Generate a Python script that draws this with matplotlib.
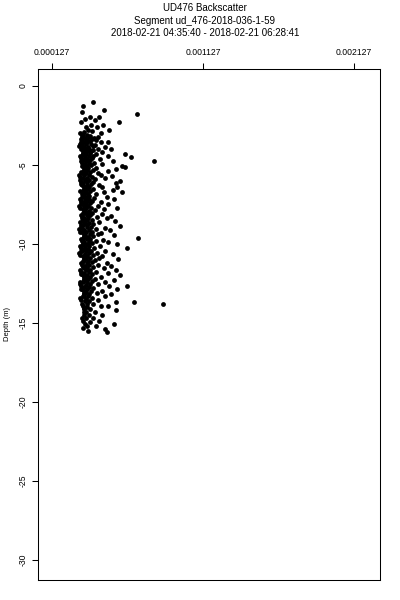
#!/usr/bin/env python3
import numpy as np
import matplotlib
matplotlib.use("Agg")
import matplotlib.pyplot as plt

# ---- DATA (backscatter in units of 1e-4, depth in m) ----
depth = [
    -1.01, -1.30, -1.52, -1.65, -1.77, -1.96, -1.99, -2.08, -2.13, -2.28, -2.26,
    -2.45, -2.49, -2.58, -2.62, -2.78, -2.83, -2.80, -2.97, -2.93, -3.00,
    -3.08, -3.13, -3.10, -3.15, -3.22, -3.27, -3.24, -3.29, -3.21,
    -3.38, -3.43, -3.40, -3.36, -3.42, -3.53, -3.57, -3.55, -3.51, -3.58, -3.54,
    -3.68, -3.72, -3.70, -3.66, -3.73, -3.83, -3.87, -3.85, -3.82, -3.88,
    -3.98, -4.02, -4.00, -3.97, -4.03, -4.01, -3.99, -4.13, -4.17, -4.15, -4.12, -4.16,
    -4.28, -4.32, -4.30, -4.27, -4.33, -4.31, -4.43, -4.47, -4.45, -4.42, -4.46, -4.49,
    -4.58, -4.62, -4.60, -4.57, -4.63, -4.73, -4.77, -4.75, -4.72, -4.78, -4.75,
    -4.88, -4.92, -4.90, -4.87, -4.93, -5.03, -5.07, -5.05, -5.02, -5.13, -5.08,
    -5.18, -5.22, -5.20, -5.17, -5.23, -5.33, -5.37, -5.35, -5.32, -5.38,
    -5.48, -5.52, -5.50, -5.47, -5.53, -5.63, -5.67, -5.65, -5.62, -5.68,
    -5.78, -5.82, -5.80, -5.77, -5.83, -5.93, -5.97, -5.95, -5.92, -6.00,
    -6.08, -6.12, -6.10, -6.07, -6.13, -6.23, -6.27, -6.25, -6.22, -6.28,
    -6.38, -6.42, -6.40, -6.37, -6.43, -6.53, -6.57, -6.55, -6.52, -6.58,
    -6.68, -6.72, -6.70, -6.67, -6.73, -6.71, -6.83, -6.87, -6.85, -6.82,
    -6.98, -7.02, -7.00, -6.97, -7.03, -7.13, -7.17, -7.15, -7.12, -7.18,
    -7.28, -7.32, -7.30, -7.27, -7.33, -7.43, -7.47, -7.45, -7.42, -7.48,
    -7.58, -7.62, -7.60, -7.57, -7.73, -7.77, -7.75, -7.72, -7.78, -7.74,
    -7.88, -7.92, -7.90, -7.87, -8.03, -8.07, -8.05, -8.02, -8.08,
    -8.18, -8.22, -8.20, -8.17, -8.23, -8.33, -8.37, -8.35, -8.32, -8.38,
    -8.48, -8.52, -8.50, -8.47, -8.53, -8.63, -8.67, -8.65, -8.62,
    -8.78, -8.82, -8.80, -8.77, -8.86, -8.93, -8.97, -8.95, -8.92, -8.98,
    -9.08, -9.12, -9.10, -9.07, -9.13, -9.23, -9.27, -9.25, -9.22, -9.28,
    -9.38, -9.42, -9.40, -9.37, -9.43, -9.53, -9.57, -9.55, -9.52, -9.62,
    -9.68, -9.72, -9.70, -9.67, -9.73, -9.83, -9.87, -9.85, -9.82, -9.88,
    -9.98, -10.02, -10.00, -9.97, -10.03, -10.13, -10.17, -10.15, -10.12,
    -10.28, -10.32, -10.30, -10.27, -10.25, -10.43, -10.47, -10.45, -10.42, -10.48,
    -10.58, -10.62, -10.60, -10.57, -10.63, -10.73, -10.77, -10.75, -10.72, -10.78,
    -10.88, -10.92, -10.90, -10.87, -10.93, -11.03, -11.07, -11.05, -11.02,
    -11.18, -11.22, -11.20, -11.17, -11.23, -11.33, -11.37, -11.35, -11.32, -11.38,
    -11.48, -11.52, -11.50, -11.47, -11.53, -11.63, -11.67, -11.65, -11.62,
    -11.78, -11.82, -11.80, -11.77, -11.83, -11.93, -11.97, -11.95, -11.92, -11.98,
    -12.08, -12.12, -12.10, -12.07, -12.23, -12.27, -12.25, -12.22, -12.28,
    -12.38, -12.42, -12.40, -12.37, -12.43, -12.53, -12.57, -12.55, -12.52, -12.66,
    -12.68, -12.72, -12.70, -12.67, -12.83, -12.87, -12.85, -12.82, -12.88,
    -12.98, -13.02, -13.00, -12.97, -13.13, -13.17, -13.15, -13.12, -13.18,
    -13.28, -13.32, -13.30, -13.27, -13.43, -13.47, -13.45, -13.67,
    -13.58, -13.62, -13.60, -13.57, -13.67, -13.78, -13.82, -13.80, -13.80,
    -13.93, -13.97, -13.95, -13.92, -14.08, -14.12, -14.10, -14.18,
    -14.28, -14.32, -14.30, -14.48, -14.52, -14.50, -14.68, -14.72, -14.70,
    -14.88, -14.92, -14.90, -15.06, -15.06, -15.18, -15.22, -15.33, -15.37,
    -15.48, -15.55,
]
backscatter = [
    3.99, 3.32, 4.71, 3.26, 6.90, 3.79, 4.38, 3.45, 4.12, 3.19, 5.71,
    3.85, 4.65, 4.25, 3.55, 3.65, 3.92, 5.05, 3.12, 3.39, 4.50,
    3.28, 3.31, 3.62, 3.80, 3.27, 3.47, 3.70, 4.02, 4.35,
    3.22, 3.24, 3.57, 3.90, 4.21, 3.18, 3.36, 3.61, 3.77, 4.52, 4.95,
    3.12, 3.29, 3.52, 3.86, 4.12, 3.08, 3.41, 3.66, 4.01, 4.81,
    3.17, 3.26, 3.49, 3.71, 3.96, 4.30, 5.20, 3.38, 3.34, 3.59, 3.86, 4.61,
    3.30, 3.31, 3.54, 3.81, 4.16, 6.10, 3.15, 3.44, 3.71, 4.01, 5.00, 6.50,
    3.18, 3.36, 3.61, 3.91, 4.42, 3.22, 3.26, 3.49, 3.76, 5.30, 8.02,
    3.27, 3.44, 3.69, 4.06, 4.61, 3.30, 3.29, 3.56, 3.86, 6.10, 5.90,
    3.42, 3.46, 3.64, 4.21, 5.52, 3.38, 3.36, 3.59, 3.96, 5.01,
    3.22, 3.24, 3.51, 3.79, 4.31, 3.08, 3.41, 3.69, 4.49, 5.25,
    3.12, 3.31, 3.56, 3.91, 4.80, 3.15, 3.46, 3.74, 4.11, 5.77,
    3.18, 3.34, 3.61, 3.96, 5.50, 3.22, 3.29, 3.56, 3.84, 4.41,
    3.42, 3.49, 3.71, 4.61, 5.60, 3.38, 3.36, 3.59, 4.01, 5.30,
    3.12, 3.31, 3.54, 3.81, 4.70, 5.90, 3.27, 3.39, 3.66, 4.21,
    3.30, 3.29, 3.51, 3.74, 4.90, 3.15, 3.44, 3.71, 4.06, 5.40,
    3.18, 3.36, 3.59, 3.91, 4.50, 3.22, 3.26, 3.49, 3.79, 5.00,
    3.08, 3.41, 3.64, 4.31, 3.12, 3.31, 3.54, 3.86, 4.70, 5.60,
    3.42, 3.44, 3.69, 4.11, 3.38, 3.34, 3.61, 3.94, 4.55,
    3.22, 3.29, 3.56, 3.81, 5.20, 3.27, 3.39, 3.66, 4.25, 4.90,
    3.30, 3.31, 3.59, 3.89, 5.45, 3.15, 3.46, 3.74, 4.40,
    3.18, 3.34, 3.61, 4.01, 5.77, 3.22, 3.24, 3.56, 3.84, 4.75,
    3.08, 3.41, 3.69, 4.16, 5.10, 3.12, 3.29, 3.54, 3.91, 4.50,
    3.42, 3.44, 3.76, 4.30, 5.40, 3.38, 3.36, 3.64, 4.01, 6.97,
    3.22, 3.31, 3.56, 3.79, 4.65, 3.27, 3.39, 3.71, 4.19, 5.00,
    3.30, 3.34, 3.61, 3.94, 5.60, 3.15, 3.46, 3.74, 4.45,
    3.18, 3.36, 3.66, 4.04, 6.24, 3.22, 3.29, 3.54, 3.86, 4.80,
    3.08, 3.44, 3.69, 4.26, 5.30, 3.12, 3.31, 3.59, 3.96, 4.60,
    3.42, 3.49, 3.79, 4.40, 5.65, 3.38, 3.34, 3.64, 4.10,
    3.22, 3.29, 3.56, 3.89, 4.90, 3.27, 3.46, 3.74, 4.30, 5.20,
    3.30, 3.36, 3.61, 4.01, 4.70, 3.15, 3.51, 3.81, 5.50,
    3.18, 3.41, 3.69, 4.21, 4.95, 3.22, 3.31, 3.59, 3.94, 5.80,
    3.42, 3.44, 3.76, 4.50, 3.38, 3.39, 3.66, 4.11, 5.35,
    3.12, 3.34, 3.61, 3.89, 4.80, 3.15, 3.51, 3.79, 4.35, 6.24,
    3.18, 3.41, 3.71, 5.05, 3.22, 3.29, 3.59, 4.01, 5.60,
    3.42, 3.49, 3.86, 4.60, 3.38, 3.39, 3.69, 4.25, 5.20,
    3.30, 3.36, 3.64, 4.80, 3.15, 3.51, 3.89, 5.51,
    3.18, 3.46, 3.74, 4.30, 6.70, 3.27, 3.56, 4.01, 8.62,
    3.35, 3.61, 4.50, 5.00, 3.38, 3.41, 3.79, 5.51,
    3.42, 3.54, 4.10, 3.36, 3.69, 4.60, 3.27, 3.51, 3.96,
    3.31, 3.79, 4.40, 3.45, 5.38, 3.60, 4.20, 3.30, 4.78,
    3.65, 4.91,
]

TITLE = ["UD476 Backscatter",
         "Segment ud_476-2018-036-1-59",
         "2018-02-21 04:35:40 - 2018-02-21 06:28:41"]
XTICKS = [0.000127, 0.001127, 0.002127]
YTICKS = [0, -5, -10, -15, -20, -25, -30]

plt.rcParams["font.family"] = ["Liberation Sans", "DejaVu Sans"]

fig = plt.figure(figsize=(4, 6), dpi=100)
ax = fig.add_axes([0.095, 0.0333, 0.855, 0.852])

x = np.array(backscatter) * 1e-4
y = np.array(depth)
ax.scatter(x, y, s=12, color="black", linewidths=0, zorder=2)

ax.set_xlim(0.0000343, 0.0023)
ax.set_ylim(-31.27, 1.08)

ax.xaxis.tick_top()
ax.set_xticks(XTICKS)
ax.set_xticklabels(["%.6f" % v for v in XTICKS])
ax.set_yticks(YTICKS)
ax.set_yticklabels([str(v) for v in YTICKS], rotation=90, va="center")
ax.tick_params(axis="both", labelsize=6.2, length=4.3, width=0.75, color="black")
ax.tick_params(axis="x", pad=4.5)
ax.tick_params(axis="y", pad=3)
for sp in ax.spines.values():
    sp.set_linewidth(0.75)

ax.set_ylabel("Depth (m)", fontsize=5.5)
ax.yaxis.set_label_coords(-0.08, 0.5)

for t, yy in zip(TITLE, [8, 21, 33]):
    fig.text(0.5125, 1 - yy / 600, t, ha="center", va="center", fontsize=7)

fig.savefig("out.png", dpi=100)
